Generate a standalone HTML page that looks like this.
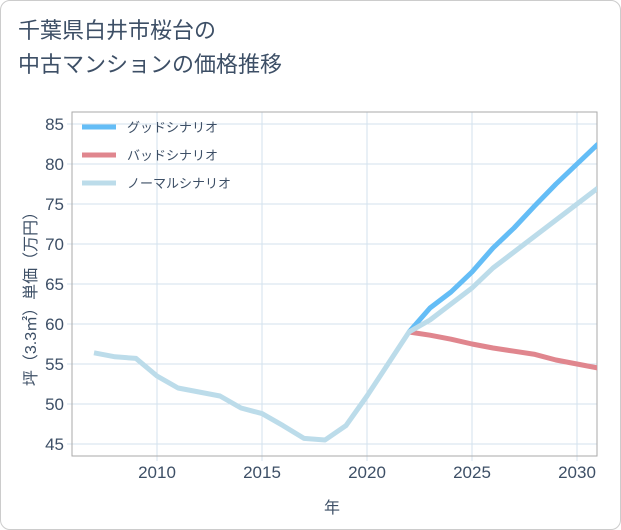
<!DOCTYPE html>
<html><head><meta charset="utf-8"><style>
body{margin:0;background:#fff;font-family:"Liberation Sans","Noto Sans CJK JP",sans-serif;}
#wrap{position:absolute;left:0;top:0;width:619px;height:528px;border:1px solid #ccc;border-radius:10px;background:#fff;}
#title{position:absolute;left:17px;top:13px;font-size:22px;line-height:34px;color:#3d4f66;}
</style></head><body>
<div id="wrap">
<div id="title">千葉県白井市桜台の<br>中古マンションの価格推移</div>
<svg id="chart" width="621" height="530" style="position:absolute;left:-1px;top:-1px"></svg>
</div>
<script>
const years=[2007,2008,2009,2010,2011,2012,2013,2014,2015,2016,2017,2018,2019,2020,2021,2022,2023,2024,2025,2026,2027,2028,2029,2030,2031];
const normal=[56.4,55.9,55.7,53.5,52,51.5,51,49.5,48.8,47.3,45.7,45.5,47.3,51,55,59,60.5,62.5,64.5,67,69,71,73,75,77];
const goodYears=[2022,2023,2024,2025,2026,2027,2028,2029,2030,2031];
const good=[59,62,64,66.5,69.5,72,74.8,77.5,80,82.5];
const bad=[59,58.6,58.1,57.5,57,56.6,56.2,55.5,55,54.5];
const yTicks=[45,50,55,60,65,70,75,80,85];
const xTicks=[2010,2015,2020,2025,2030];
const legendLabels=["グッドシナリオ","バッドシナリオ","ノーマルシナリオ"];
const colors=["#64bdf6","#e0868e","#bcdcea"];
const L=72,R=597,T=112,B=456;
const TXT='#3d4f66';
const x=v=>157+(v-2010)*21;
const y=v=>444-(v-45)*8;
const svg=document.getElementById('chart');
const NS='http://www.w3.org/2000/svg';
function mk(t,a){const e=document.createElementNS(NS,t);for(const k in a)e.setAttribute(k,a[k]);svg.appendChild(e);return e;}
yTicks.forEach(v=>{const g=mk('line',{x1:L-5,x2:R,y1:y(v),y2:y(v),stroke:'#d3e2ee','stroke-width':1});


const t=mk('text',{x:L-8,y:y(v)+6,'text-anchor':'end','font-size':17,fill:TXT});t.textContent=v;

});
xTicks.forEach(v=>{const g=mk('line',{x1:x(v),x2:x(v),y1:T,y2:B+5,stroke:'#d3e2ee','stroke-width':1});


const t=mk('text',{x:x(v),y:B+22,'text-anchor':'middle','font-size':17,fill:TXT});t.textContent=v;

});
const fr=mk('rect',{x:L,y:T,width:R-L,height:B-T,fill:'none',stroke:'#aaa','stroke-width':1});


const cp=mk('clipPath',{id:'cp'});const cr=document.createElementNS(NS,'rect');
cr.setAttribute('x',L);cr.setAttribute('y',T);cr.setAttribute('width',R-L);cr.setAttribute('height',B-T);cp.appendChild(cr);
function line(xs,vs,c,name){const p=mk('polyline',{points:xs.map((v,i)=>x(v)+','+y(vs[i])).join(' '),fill:'none',stroke:c,'stroke-width':5,'stroke-linejoin':'round','clip-path':'url(#cp)'});

}
line(goodYears,bad,colors[1],'bad-scenario-line');
line(goodYears,good,colors[0],'good-scenario-line');
line(years,normal,colors[2],'normal-scenario-line');
legendLabels.forEach((s,i)=>{const ly=127+i*28;
const l=mk('line',{x1:82,x2:116,y1:ly,y2:ly,stroke:colors[i],'stroke-width':5});


const t=mk('text',{x:127,y:ly+5,'font-size':13,fill:TXT});t.textContent=s;

});
const xt=mk('text',{x:332,y:513,'text-anchor':'middle','font-size':16,fill:TXT});xt.textContent='年';


const yt=mk('text',{x:0,y:0,'text-anchor':'middle','font-size':16,fill:TXT,transform:'translate(36,295) rotate(-90)'});yt.textContent='坪（3.3㎡）単価（万円）';


</script>
</body></html>
